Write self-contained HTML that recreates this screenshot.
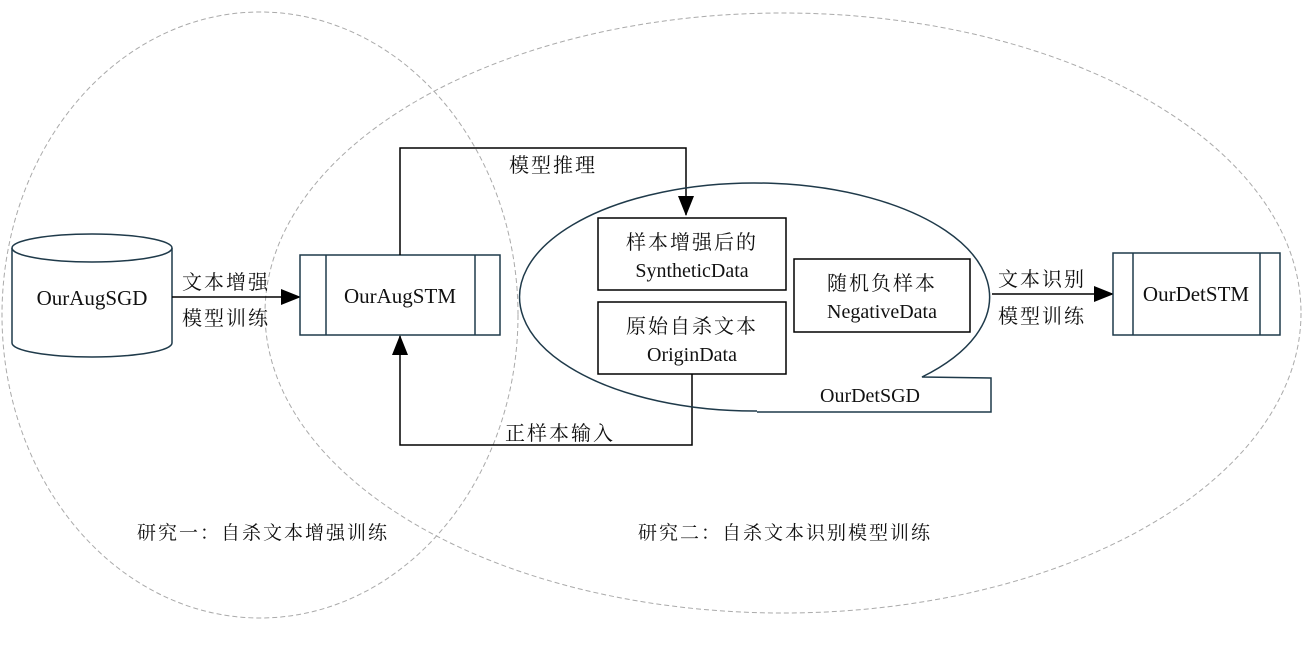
<!DOCTYPE html>
<html><head><meta charset="utf-8"><style>
html,body{margin:0;padding:0;background:#fff;}
svg text{font-family:"Liberation Serif","Noto Serif CJK SC","Noto Sans CJK SC",serif;fill:#111;}
.c{letter-spacing:2px;}
</style></head><body>
<svg width="1303" height="640" viewBox="0 0 1303 640" xmlns="http://www.w3.org/2000/svg">
<defs><marker id="b" markerWidth="20" markerHeight="16" refX="19" refY="8" orient="auto" markerUnits="userSpaceOnUse"><path d="M0,0 L20,8 L0,16 z" fill="#000"/></marker></defs>
<ellipse cx="260" cy="315" rx="258" ry="303" fill="none" stroke="#aaa" stroke-dasharray="5,3"/>
<ellipse cx="783" cy="313" rx="518" ry="300" fill="none" stroke="#aaa" stroke-dasharray="5,3"/>
<path d="M12,248 L12,343 A80,14 0 0 0 172,343 L172,248" fill="#fff" stroke="#1f3a4a" stroke-width="1.5"/>
<ellipse cx="92" cy="248" rx="80" ry="14" fill="#fff" stroke="#1f3a4a" stroke-width="1.5"/>
<text x="92" y="305" font-size="21" text-anchor="middle">OurAugSGD</text>
<line x1="172" y1="297" x2="300" y2="297" stroke="#000" stroke-width="1.5" marker-end="url(#b)"/>
<text class="c" x="226" y="289" font-size="20" text-anchor="middle">文本增强</text>
<text class="c" x="226" y="325" font-size="20" text-anchor="middle">模型训练</text>
<rect x="300" y="255" width="200" height="80" fill="#fff" stroke="#1f3a4a" stroke-width="1.5"/>
<line x1="326" y1="255" x2="326" y2="335" stroke="#1f3a4a" stroke-width="1.5"/>
<line x1="475" y1="255" x2="475" y2="335" stroke="#1f3a4a" stroke-width="1.5"/>
<text x="400" y="303" font-size="21" text-anchor="middle">OurAugSTM</text>
<polyline points="400,255 400,148 686,148 686,215" fill="none" stroke="#000" stroke-width="1.5" marker-end="url(#b)"/>
<text class="c" x="553" y="172" font-size="20" text-anchor="middle">模型推理</text>
<polyline points="692,374 692,445 400,445 400,336" fill="none" stroke="#000" stroke-width="1.5" marker-end="url(#b)"/>
<text class="c" x="560" y="440" font-size="20" text-anchor="middle">正样本输入</text>
<path d="M757,411 A235,114 0 1 1 922,377 L991,378 L991,412 L757,412" fill="none" stroke="#1f3a4a" stroke-width="1.5"/>
<rect x="598" y="218" width="188" height="72" fill="#fff" stroke="#000" stroke-width="1.5"/>
<text class="c" x="692" y="249" font-size="20" text-anchor="middle">样本增强后的</text>
<text x="692" y="277" font-size="20" text-anchor="middle">SyntheticData</text>
<rect x="598" y="302" width="188" height="72" fill="#fff" stroke="#000" stroke-width="1.5"/>
<text class="c" x="692" y="333" font-size="20" text-anchor="middle">原始自杀文本</text>
<text x="692" y="361" font-size="20" text-anchor="middle">OriginData</text>
<rect x="794" y="259" width="176" height="73" fill="#fff" stroke="#000" stroke-width="1.5"/>
<text class="c" x="882" y="290" font-size="20" text-anchor="middle">随机负样本</text>
<text x="882" y="318" font-size="20" text-anchor="middle">NegativeData</text>
<text x="870" y="402" font-size="20" text-anchor="middle">OurDetSGD</text>
<line x1="992" y1="294" x2="1113" y2="294" stroke="#000" stroke-width="1.5" marker-end="url(#b)"/>
<text class="c" x="1042" y="286" font-size="20" text-anchor="middle">文本识别</text>
<text class="c" x="1042" y="323" font-size="20" text-anchor="middle">模型训练</text>
<rect x="1113" y="253" width="167" height="82" fill="#fff" stroke="#1f3a4a" stroke-width="1.5"/>
<line x1="1133" y1="253" x2="1133" y2="335" stroke="#1f3a4a" stroke-width="1.5"/>
<line x1="1260" y1="253" x2="1260" y2="335" stroke="#1f3a4a" stroke-width="1.5"/>
<text x="1196" y="301" font-size="21" text-anchor="middle">OurDetSTM</text>
<text class="c" x="263" y="539" font-size="19" text-anchor="middle">研究一：自杀文本增强训练</text>
<text class="c" x="785" y="539" font-size="19" text-anchor="middle">研究二：自杀文本识别模型训练</text>
</svg>
</body></html>
